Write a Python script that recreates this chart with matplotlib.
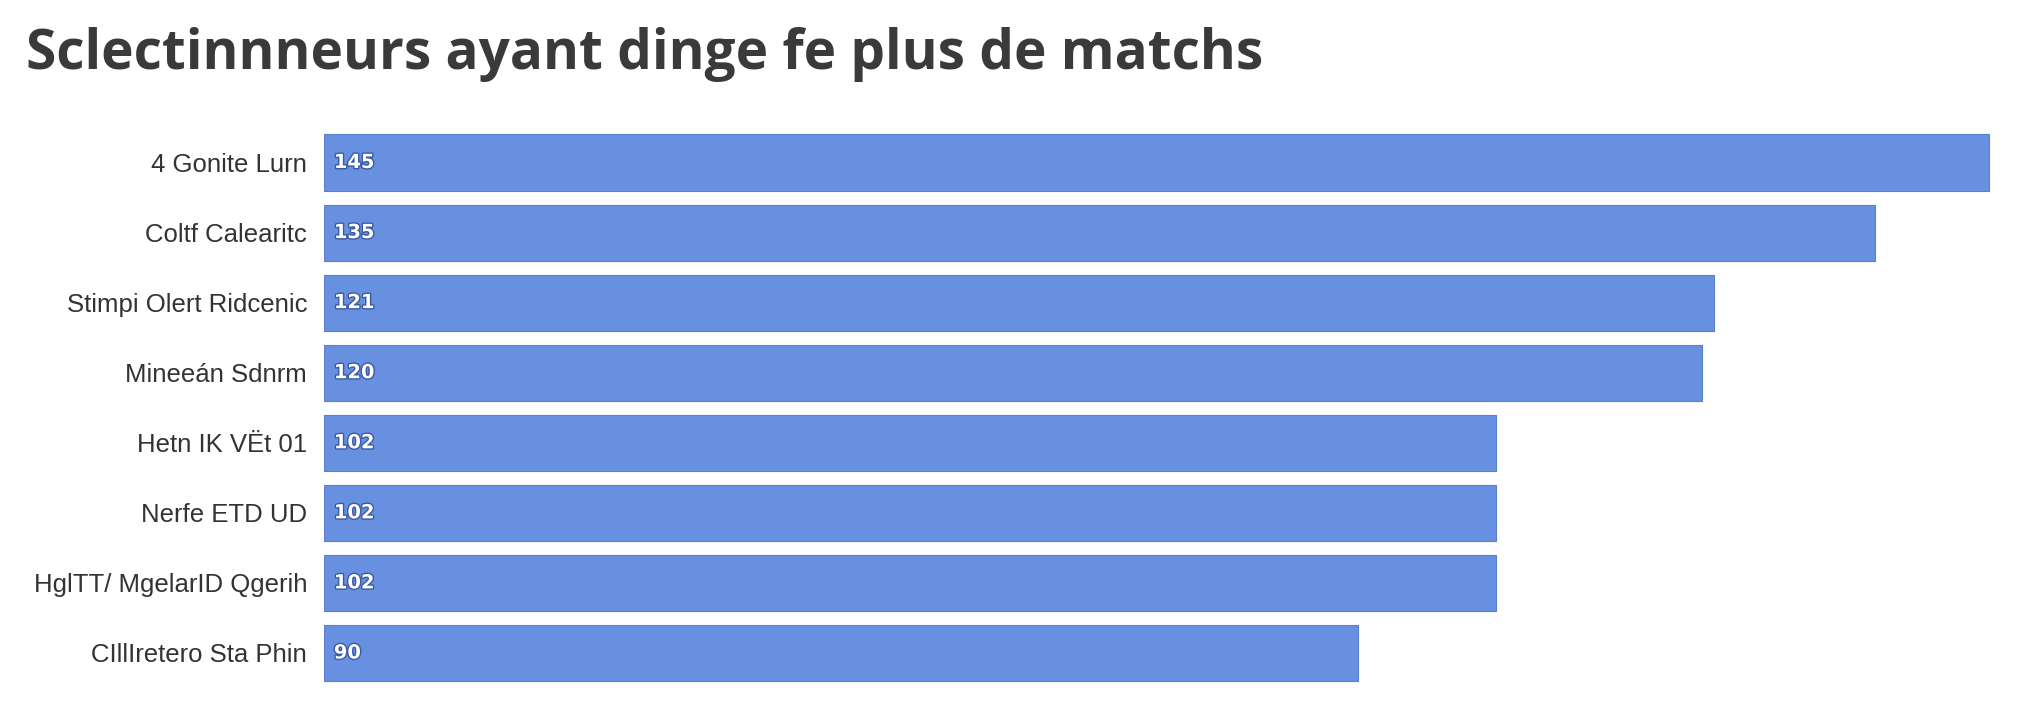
"""
Horizontal bar chart: selectionneurs with the most matches.
"""

import matplotlib.pyplot as plt
import matplotlib.patheffects as pe

OUT_PATH = "out.png"

TITLE = "Sclectinnneurs ayant dinge fe plus de matchs"

names = [
    "4 Gonite Lurn",
    "Coltf Calearitc",
    "Stimpi Olert Ridcenic",
    "Mineeán Sdnrm",
    "Hetn IK VËt 01",
    "Nerfe ETD UD",
    "HglTT/ MgelarID Qgerih",
    "CIllIretero Sta Phin",
]
matches = [145, 135, 121, 120, 102, 102, 102, 90]
value_labels = ["145", "135", "121", "120", "102", "102", "102", "90"]

BAR_COLOR = "#6790e0"
EDGE_COLOR = "#5a7fcc"
TEXT_COLOR = "#333333"


def main():
    fig = plt.figure(figsize=(20.32, 7.2), dpi=100)
    ax = fig.add_axes([0.1594, 0.0444, 0.9815 - 0.1594, 0.823 - 0.0444])

    ypos = list(range(len(names)))
    bars = ax.barh(ypos, matches, height=0.8, color=BAR_COLOR,
                   edgecolor=EDGE_COLOR, linewidth=0.8)

    ax.set_ylim(len(names) - 0.5, -0.5)
    ax.set_xlim(0, max(matches) * 1.003)
    ax.set_yticks(ypos)
    ax.set_yticklabels(names, fontsize=18.5, color=TEXT_COLOR,
                       family=["Liberation Sans", "DejaVu Sans"])
    ax.tick_params(axis="y", length=0, pad=12)
    ax.set_xticks([])
    for s in ax.spines.values():
        s.set_visible(False)

    # value labels inside the bar, at its base
    for bar, lab in zip(bars, value_labels):
        ax.text(max(matches) * 0.006, bar.get_y() + bar.get_height() / 2,
                lab, va="center", ha="left", fontsize=14, fontweight="bold",
                color="white",
                path_effects=[pe.withStroke(linewidth=2, foreground="#3b5aa0")])

    fig.text(0.0128, 0.925, TITLE, fontsize=39.5, fontweight="bold",
             color="#3a3a3c", family=["Open Sans", "DejaVu Sans"], va="center")

    fig.savefig(OUT_PATH, dpi=100, facecolor="white")


if __name__ == "__main__":
    main()
